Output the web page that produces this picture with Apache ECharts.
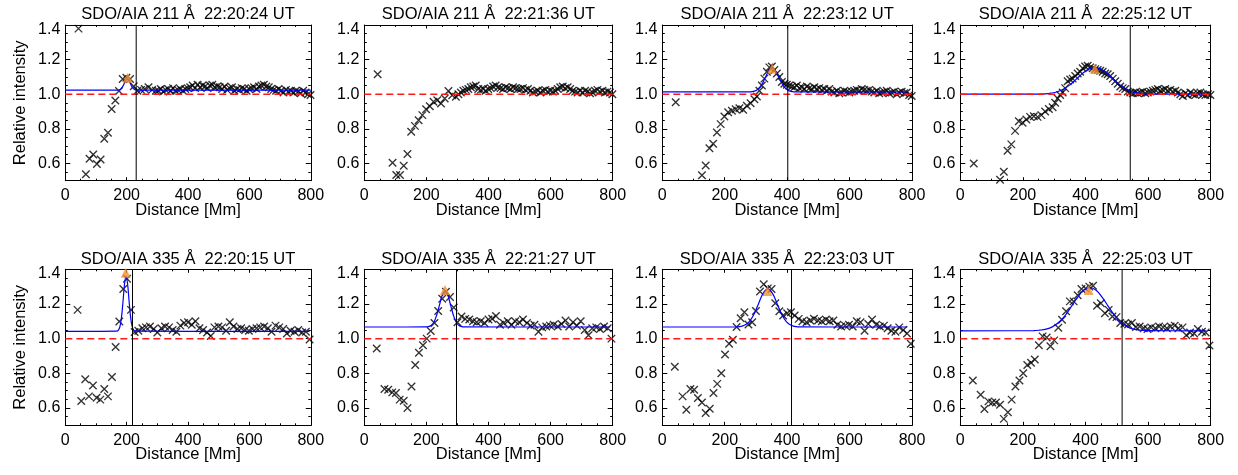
<!DOCTYPE html>
<html><head><meta charset="utf-8">
<script src="https://cdn.jsdelivr.net/npm/echarts@6/dist/echarts.min.js"></script>
<style>html,body{margin:0;padding:0;background:#fff}#c{width:1238px;height:475px}</style>
</head><body><div id="c"></div>
<script>
// ---------------- DATA ----------------
const titles = [
  'SDO/AIA 211 Å  22:20:24 UT', 'SDO/AIA 211 Å  22:21:36 UT', 'SDO/AIA 211 Å  22:23:12 UT', 'SDO/AIA 211 Å  22:25:12 UT',
  'SDO/AIA 335 Å  22:20:15 UT', 'SDO/AIA 335 Å  22:21:27 UT', 'SDO/AIA 335 Å  22:23:03 UT', 'SDO/AIA 335 Å  22:25:03 UT'
];
const xTitle = 'Distance [Mm]';
const yTitle = 'Relative intensity';
const xMin = 0, xMax = 800, xStep = 200;
const yMin = 0.5, yMax = 1.4;
const yTickValues = [0.6, 0.8, 1.0, 1.2, 1.4];
const yMinorValues = [0.55, 0.65, 0.7, 0.75, 0.85, 0.9, 0.95, 1.05, 1.1, 1.15, 1.25, 1.3, 1.35];
const referenceLevel = 1.0;

const dist211 = [43,55,67,79,91,103,115,127,139,151,163,175,187,199,211,223,235,247,259,271,283,295,
  303,311,319,327,335,343,351,359,367,375,383,391,399,
  407,415,423,431,439,447,455,463,471,479,487,495,
  503,511,519,527,535,543,551,559,567,575,583,591,599,
  607,615,623,631,639,647,655,663,671,679,687,695,
  703,711,719,727,735,743,751,759,767,775,783,791,799];

const dist335 = [40,52,65,77,90,102,114,127,139,152,164,176,189,201,214,226,238,251,263,276,
  288,300,313,325,338,350,362,375,387,400,412,424,437,449,462,474,486,499,511,524,
  536,548,561,573,586,598,610,623,635,648,660,672,685,697,710,722,734,747,759,772,784,796];

const int1 = [1.379,null,0.537,0.627,0.652,0.596,0.623,0.742,0.777,0.915,0.963,1.019,1.088,1.095,1.088,1.046,1.02,1.025,1.03,1.04,1.025,1.02,
  1.02,1.03,1.015,1.025,1.03,1.02,1.035,1.02,1.025,1.03,1.02,1.03,1.035,
  1.04,1.05,1.035,1.055,1.04,1.05,1.045,1.035,1.05,1.055,1.04,1.045,
  1.04,1.03,1.045,1.025,1.035,1.04,1.02,1.03,1.025,1.035,1.03,1.02,1.03,
  1.035,1.04,1.03,1.045,1.05,1.055,1.045,1.04,1.03,1.025,1.02,1.03,
  1.02,1.01,1.025,1.015,1.02,1.01,1.02,1.015,1.005,1.02,1.01,1.0,0.995];
const int2 = [1.115,null,null,null,0.604,0.533,0.533,0.587,0.654,0.783,0.817,0.85,0.879,0.913,0.93,0.956,0.965,0.946,0.975,1.019,0.994,0.985,
  1.0,1.01,1.02,1.025,1.03,1.04,1.045,1.05,1.03,1.025,1.03,1.02,1.03,
  1.035,1.045,1.05,1.04,1.035,1.03,1.04,1.035,1.03,1.04,1.035,1.03,
  1.03,1.035,1.025,1.03,1.02,1.01,1.015,1.02,1.01,1.02,1.025,1.015,1.02,
  1.015,1.02,1.03,1.04,1.045,1.035,1.04,1.03,1.02,1.015,1.01,1.02,
  1.01,1.02,1.015,1.005,1.01,1.02,1.025,1.015,1.02,1.01,1.015,1.01,1.0];
const int3 = [0.954,null,null,null,null,null,null,0.531,0.588,0.688,0.713,0.779,0.827,0.871,0.896,0.904,0.913,0.919,0.91,0.933,0.948,0.971,
  0.987,1.02,1.05,1.09,1.13,1.155,1.16,1.14,1.12,1.1,1.07,1.06,1.055,
  1.05,1.045,1.04,1.05,1.035,1.04,1.03,1.045,1.035,1.03,1.04,1.03,
  1.035,1.025,1.03,1.02,1.03,1.015,1.01,1.02,1.005,1.01,1.02,1.015,1.01,
  1.015,1.02,1.025,1.02,1.03,1.025,1.02,1.025,1.015,1.01,1.02,1.005,
  1.01,1.015,1.02,1.005,1.01,1.015,1.0,1.01,1.015,1.005,1.01,0.995,0.99];
const int4 = [0.6,null,null,null,null,null,null,0.505,0.552,0.673,0.71,0.788,0.844,0.835,0.854,0.869,0.873,0.869,0.879,0.9,0.915,0.925,
  0.95,0.975,0.995,1.01,1.035,1.075,1.085,1.09,1.105,1.12,1.13,1.15,1.16,
  1.165,1.155,1.15,1.145,1.14,1.135,1.13,1.12,1.115,1.105,1.09,1.075,
  1.06,1.045,1.035,1.03,1.015,1.01,1.005,1.01,1.005,1.01,1.015,1.005,1.01,
  1.015,1.02,1.025,1.03,1.02,1.025,1.03,1.02,1.025,1.015,1.02,1.01,
  1.0,0.99,1.005,0.995,1.01,1.0,0.995,1.005,1.01,1.0,0.995,1.0,0.995];
const int5 = [1.166,0.64,0.766,0.667,0.73,0.659,0.648,0.71,0.667,0.779,0.952,1.099,1.286,1.345,1.166,1.038,
  1.045,1.06,1.065,1.07,1.055,1.035,1.06,1.07,1.065,1.05,
  1.04,1.075,1.09,1.095,1.08,1.10,1.06,1.05,1.035,1.015,
  1.065,1.07,1.065,1.045,1.095,1.07,1.055,1.06,1.05,1.045,
  1.055,1.06,1.065,1.07,1.06,1.04,1.075,1.065,1.055,1.03,
  1.045,1.04,1.05,1.035,1.04,0.995];
const int6 = [0.943,null,0.709,0.705,0.69,0.686,0.648,0.642,0.6,0.724,
  0.848,0.918,0.962,1.0,1.044,1.09,1.16,1.23,1.27,1.24,
  1.18,1.095,1.128,1.114,
  1.11,1.1,1.095,1.1,1.09,1.11,1.115,1.13,1.08,1.09,
  1.1,1.08,1.1,1.095,1.11,1.09,1.075,1.08,1.04,1.065,
  1.07,1.075,1.08,1.07,1.085,1.105,1.07,1.095,1.075,1.1,
  1.05,1.02,1.06,1.065,1.055,1.07,1.06,1.0];
const int7 = [0.838,null,0.667,0.59,0.709,0.705,0.657,0.632,0.571,0.596,
  0.686,0.739,0.8,0.909,0.971,0.994,1.067,1.118,1.152,1.082,
  1.095,1.16,1.272,1.314,1.29,1.286,1.204,1.158,1.133,1.147,
  1.152,1.133,1.114,
  1.1,1.095,1.105,1.115,1.105,1.1,1.11,1.1,1.105,1.08,
  1.07,1.075,1.08,1.07,1.1,1.095,1.045,1.085,1.11,1.08,
  1.07,1.075,1.06,1.045,1.04,1.065,1.05,1.03,0.97];
const int8 = [0.758,null,0.676,0.594,0.638,0.632,0.632,0.619,0.537,0.575,
  0.648,0.724,0.758,0.8,0.848,0.861,0.88,0.962,1.013,1.006,
  0.956,0.99,1.063,1.109,1.158,1.215,1.215,1.25,1.286,1.29,
  1.3,1.305,1.19,1.204,1.147,1.166,1.128,1.124,1.09,1.086,
  1.082,1.09,1.067,1.07,
  1.06,1.055,1.065,1.06,1.07,1.065,1.06,1.07,1.075,1.06,1.065,1.02,1.035,1.03,1.055,1.04,1.035,0.96];

// Gaussian fit curves
const fit1 = [[0,1.023],[172,1.024],[177,1.026],[182,1.032],[187,1.044],[192,1.062],[197,1.080],[202,1.088],[207,1.080],[212,1.062],[217,1.044],[222,1.032],[227,1.026],[232,1.024],[800,1.023]];
const fit2 = null;
const fit3 = [[0,1.013],[282,1.014],[292,1.016],[302,1.023],[312,1.039],[322,1.067],[332,1.104],[342,1.137],[352,1.150],[362,1.137],[372,1.104],[382,1.067],[392,1.039],[402,1.023],[412,1.016],[422,1.014],[786,1.013]];
const fit4 = [[0,1.0],[250,1.001],[270,1.002],[290,1.006],[310,1.014],[330,1.030],[350,1.054],[370,1.086],[390,1.119],[410,1.145],[430,1.155],[450,1.145],[470,1.119],[490,1.086],[510,1.054],[530,1.030],[550,1.014],[570,1.006],[590,1.002],[610,1.001],[786,1.0]];
const fit5 = [[0,1.042],[168,1.043],[173,1.049],[178,1.069],[183,1.121],[188,1.213],[193,1.315],[198,1.36],[203,1.315],[208,1.213],[213,1.121],[218,1.069],[223,1.049],[228,1.043],[796,1.042]];
const fit6 = [[0,1.067],[197,1.0675],[206,1.069],[215,1.076],[224,1.095],[233,1.135],[242,1.193],[251,1.25],[260,1.275],[269,1.25],[278,1.193],[287,1.135],[296,1.095],[305,1.076],[314,1.069],[323,1.0675],[792,1.067]];
const fit7 = [[0,1.067],[233,1.0675],[248,1.069],[263,1.077],[278,1.097],[293,1.138],[308,1.2],[323,1.261],[338,1.287],[353,1.261],[368,1.2],[383,1.138],[398,1.097],[413,1.077],[428,1.069],[443,1.0675],[785,1.067]];
const fit8 = [[0,1.045],[234,1.046],[254,1.049],[274,1.055],[294,1.068],[314,1.093],[334,1.132],[354,1.183],[374,1.237],[394,1.279],[414,1.295],[434,1.279],[454,1.237],[474,1.183],[494,1.132],[514,1.093],[534,1.068],[554,1.055],[574,1.049],[594,1.046],[786,1.045]];

const peaks = [[203,1.095], null, [352,1.148], [430,1.145], [197,1.38], [260,1.28], [337,1.275], [410,1.28]];
const fronts = [231, null, 402, 543, 219, 297, 414, 517];

const intensities = [int1,int2,int3,int4,int5,int6,int7,int8];
const fits = [fit1,fit2,fit3,fit4,fit5,fit6,fit7,fit8];
const distances = [dist211,dist211,dist211,dist211,dist335,dist335,dist335,dist335];

// ---------------- LAYOUT / STYLE ----------------
const FONT = '"Liberation Sans", Arial, Helvetica, sans-serif';
const colLayout = [[65.3,245.5],[364.3,248.4],[662.3,249.7],[960.3,250.4]];
const rowLayout = [[25,155.7],[269.3,156]];
const titleY = [14.5, 259.5];
const CROSS = 'path://M0,0L10,10M10,0L0,10';

const grid = [], xAxis = [], yAxis = [], series = [], graphic = [];
const blackLine = {color:'#000', width:1};

titles.forEach((t, i) => {
  const r = Math.floor(i/4), c = i % 4;
  const g = {left: colLayout[c][0], top: rowLayout[r][0], width: colLayout[c][1], height: rowLayout[r][1], containLabel:false, outerBoundsMode:'none'};
  grid.push(g); grid.push(Object.assign({}, g));
  const gi = 2*i, go = 2*i+1;
  const xi = xAxis.length, yi = yAxis.length;
  const xBase = {type:'value', min:xMin, max:xMax, interval:xStep, splitLine:{show:false},
    axisLine:{show:true, onZero:false, lineStyle:blackLine},
    axisTick:{show:true, inside:true, length:3.5, lineStyle:blackLine},
    minorTick:{show:true, splitNumber:4, length:2, lineStyle:blackLine}};
  xAxis.push(Object.assign({}, xBase, {gridIndex:gi, position:'bottom',
    axisLabel:{show:true, margin:7, color:'#000', fontSize:16, fontFamily:FONT},
    name:xTitle, nameLocation:'middle', nameGap:21, nameMoveOverlap:false,
    nameTextStyle:{fontSize:16.5, fontFamily:FONT, color:'#000'}}));
  xAxis.push(Object.assign({}, xBase, {gridIndex:gi, position:'top', axisLabel:{show:false}}));
  xAxis.push({gridIndex:go, type:'value', min:xMin, max:xMax, show:false});

  const yBase = {type:'value', min:yMin, max:yMax, splitLine:{show:false},
    axisLine:{show:true, onZero:false, lineStyle:blackLine},
    axisTick:{show:true, inside:true, length:5, customValues:yTickValues, lineStyle:blackLine}};
  yAxis.push(Object.assign({}, yBase, {gridIndex:gi, position:'left',
    axisLabel:{show:true, customValues:yTickValues, margin:5, color:'#000', fontSize:16, fontFamily:FONT,
      formatter: v => (Math.abs(v - yMax) < 1e-9 ? '{t|' + v.toFixed(1) + '}' : v.toFixed(1)),
      rich:{t:{padding:[9,0,0,0], fontSize:16, fontFamily:FONT, color:'#000'}}},
    name: c === 0 ? yTitle : '', nameLocation:'middle', nameGap:36, nameMoveOverlap:false,
    nameTextStyle:{fontSize:16.5, fontFamily:FONT, color:'#000'}}));
  yAxis.push(Object.assign({}, yBase, {gridIndex:gi, position:'right', axisLabel:{show:false}}));
  const yMinor = {type:'value', min:yMin, max:yMax, splitLine:{show:false}, axisLine:{show:false},
    axisLabel:{show:false}, axisTick:{show:true, inside:true, length:2.5, customValues:yMinorValues, lineStyle:blackLine}};
  yAxis.push(Object.assign({}, yMinor, {gridIndex:go, position:'left'}));
  yAxis.push(Object.assign({}, yMinor, {gridIndex:go, position:'right'}));

  const d = distances[i], ys = intensities[i];
  const pts = d.map((x, k) => [x, ys[k]]).filter(p => p[1] !== null && p[1] !== undefined);
  const common = {xAxisIndex:xi, yAxisIndex:yi, silent:true, animation:false};
  series.push(Object.assign({type:'scatter', data:pts, symbol:CROSS, symbolSize:7.5,
    itemStyle:{color:'#000', borderColor:'#000', borderWidth:1.35}, z:2}, common));
  if (fits[i]) series.push(Object.assign({type:'line', data:fits[i], symbol:'none', showSymbol:false, smooth:0.4,
    lineStyle:{color:'#0000ff', width:1.2}, z:3}, common));
  series.push(Object.assign({type:'line', data:[[xMin,referenceLevel],[xMax,referenceLevel]], symbol:'none',
    lineStyle:{color:'#ff1a1a', width:1.5, type:[7,4]}, z:4}, common));
  if (fronts[i] !== null) series.push(Object.assign({type:'line', data:[[fronts[i],yMin],[fronts[i],yMax]], symbol:'none',
    lineStyle:{color:'#000', width:1}, z:4}, common));
  if (peaks[i]) series.push(Object.assign({type:'scatter', data:[peaks[i]], symbol:'triangle', symbolSize:10,
    itemStyle:{color:'#f5902a'}, z:5}, common));

  graphic.push({type:'text', x: colLayout[c][0] + colLayout[c][1]/2, y: titleY[r], silent:true,
    style:{text:t, fill:'#000', font:'16.5px ' + FONT, textAlign:'center', textVerticalAlign:'middle'}});
});

const chart = echarts.init(document.getElementById('c'), null, {renderer:'canvas'});
chart.setOption({animation:false, backgroundColor:'#fff', grid, xAxis, yAxis, series, graphic});
</script></body></html>
